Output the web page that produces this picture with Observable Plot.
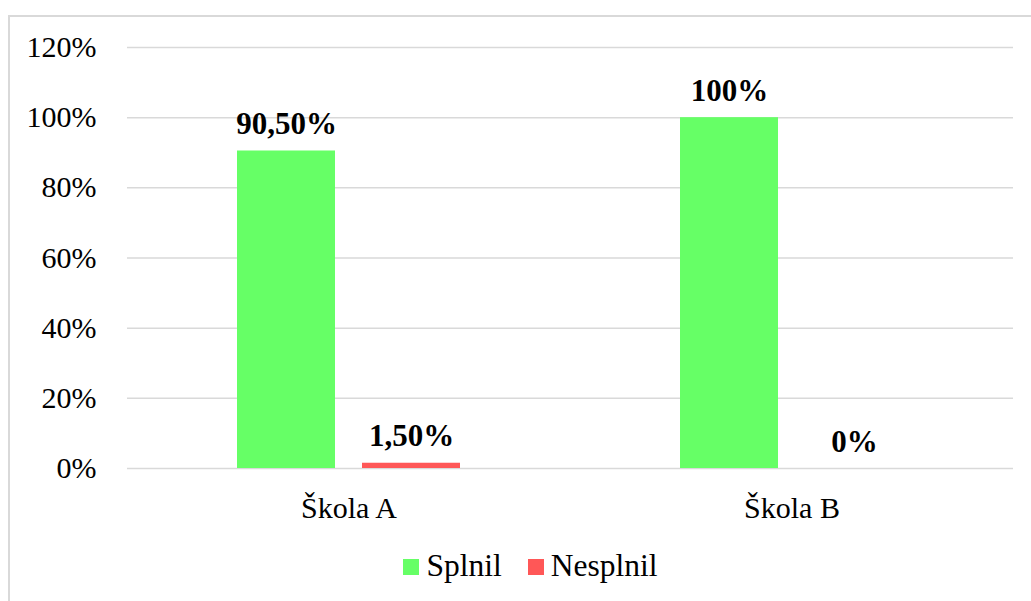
<!DOCTYPE html>
<html>
<head>
<meta charset="utf-8">
<script src="https://cdn.jsdelivr.net/npm/d3@7"></script>
<script src="https://cdn.jsdelivr.net/npm/@observablehq/plot@0.6"></script>
<style>
  html, body { margin: 0; padding: 0; overflow: hidden; background: #fff; width: 1031px; height: 601px; }
  #wrap { position: relative; width: 1031px; height: 601px; font-family: 'Liberation Serif', serif; }
  #chart svg, #chart svg text { font-family: 'Liberation Serif', serif !important; }
  #frame { position: absolute; left: 8px; top: 15px; width: 1100px; height: 700px; border: 2px solid #d9d9d9; box-sizing: border-box; }
  #chart { position: absolute; left: 0; top: 0; }
  #legend { position: absolute; top: 548px; left: 0; width: 1061px; display: flex; justify-content: center; font-family: 'Liberation Serif', serif !important; font-size: 31.5px; color: #000; }
  .item { display: flex; align-items: center; margin: 0 13px; }
  .sw { width: 16px; height: 16px; margin-right: 7px; margin-top: 2px; }
</style>
</head>
<body>
<div id="wrap">
  <div id="frame"></div>
  <div id="chart"></div>
  <div id="legend"></div>
</div>
<script>
const schools = ["Škola A", "Škola B"];
const series = ["Splnil", "Nesplnil"];
const splnil = [0.905, 1.0];
const nesplnil = [0.015, 0.0];
const splnilLabels = ["90,50%", "100%"];
const nesplnilLabels = ["1,50%", "0%"];
const yTicks = [0, 0.2, 0.4, 0.6, 0.8, 1.0, 1.2];
const colors = ["#66FF66", "#FF5757"];

const rows = [];
schools.forEach((s, i) => {
  rows.push({school: s, series: series[0], value: splnil[i], label: splnilLabels[i]});
  rows.push({school: s, series: series[1], value: nesplnil[i], label: nesplnilLabels[i]});
});

const chart = Plot.plot({
  width: 1031,
  height: 530,
  marginLeft: 127,
  marginRight: 18,
  marginTop: 47,
  marginBottom: 62,
  style: {fontFamily: "Liberation Serif", fontSize: "30px", color: "#000", background: "transparent", overflow: "visible"},
  fx: {domain: schools, padding: 0, label: null, axis: "bottom", tickSize: 0, tickPadding: 28},
  x: {domain: series, paddingInner: 0.214, paddingOuter: 0.865, axis: null},
  y: {domain: [0, 1.2], ticks: yTicks, tickFormat: d3.format(".0%"), label: null, tickSize: 0, tickPadding: 31},
  color: {domain: series, range: colors},
  marks: [
    Plot.gridY(yTicks, {stroke: "#d9d9d9", strokeOpacity: 1, strokeWidth: 1.5}),
    Plot.barY(rows, {fx: "school", x: "series", y: "value", fill: "series"}),
    Plot.text(rows, {fx: "school", x: "series", y: "value", text: "label", lineAnchor: "bottom", dy: -17, fontWeight: "bold", fontSize: 31, fill: "#000"})
  ]
});
document.getElementById("chart").appendChild(chart);

const legend = document.getElementById("legend");
series.forEach((s, i) => {
  const item = document.createElement("div");
  item.className = "item";
  const sw = document.createElement("span");
  sw.className = "sw";
  sw.style.background = colors[i];
  const t = document.createElement("span");
  t.textContent = s;
  item.appendChild(sw);
  item.appendChild(t);
  legend.appendChild(item);
});
</script>
</body>
</html>
